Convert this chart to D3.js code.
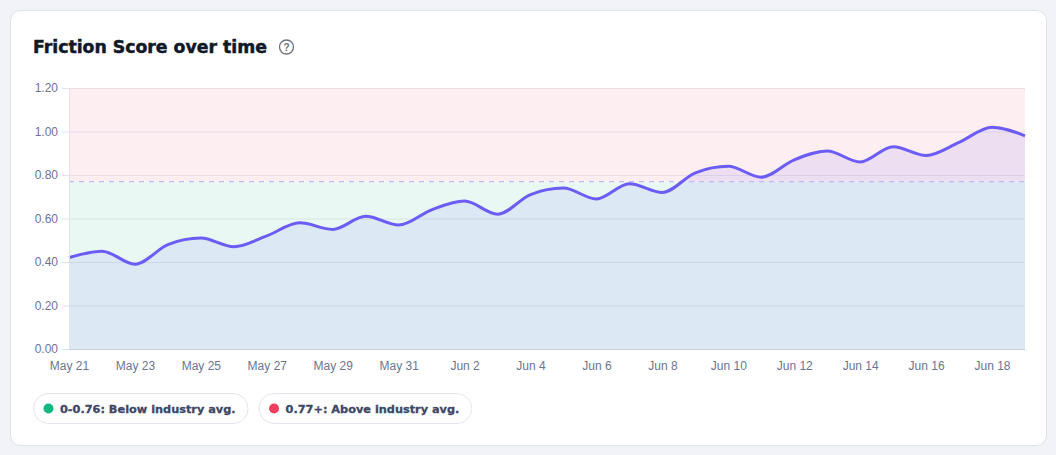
<!DOCTYPE html>
<html>
<head>
<meta charset="utf-8">
<script src="https://cdn.jsdelivr.net/npm/d3@7"></script>
<style>
  html, body { margin: 0; padding: 0; background: #f1f3f8; }
  svg { display: block; }
</style>
</head>
<body>
<script>
// daily friction scores, May 21 .. Jun 19
const startDate = "2024-05-21";
const scores = [0.42, 0.45, 0.39, 0.48, 0.51, 0.47, 0.52, 0.58, 0.55, 0.61,
                0.57, 0.64, 0.68, 0.62, 0.71, 0.74, 0.69, 0.76, 0.72, 0.81,
                0.84, 0.79, 0.87, 0.91, 0.86, 0.93, 0.89, 0.95, 1.02, 0.98];
const yTicks = [0, 0.2, 0.4, 0.6, 0.8, 1.0, 1.2];
const xTickEvery = 2; // label every other day
const threshold = 0.77;
const legendItems = [
  { label: "0-0.76: Below industry avg.", color: "#10b981" },
  { label: "0.77+: Above industry avg.", color: "#f43f5e" }
];

const W = 1056, H = 455;
const margin = { left: 69, right: 31, top: 88, bottom: 106 };

const parse = d3.timeParse("%Y-%m-%d");
const t0 = parse(startDate);
const data = scores.map((v, i) => ({ date: d3.timeDay.offset(t0, i), value: v }));
const xTickValues = data.filter((d, i) => i % xTickEvery == 0 && i < data.length - 1).map(d => d.date);

const svg = d3.select("body").append("svg").attr("width", W).attr("height", H);

// card
svg.append("rect")
  .attr("x", 10.5).attr("y", 10.5).attr("width", 1036).attr("height", 435)
  .attr("rx", 10).attr("fill", "#fff").attr("stroke", "#dde2ec");

svg.append("text")
  .attr("x", 33).attr("y", 53)
  .attr("font-family", "DejaVu Sans, sans-serif").attr("font-weight", 700)
  .attr("font-size", 17.3).attr("fill", "#111827")
  .attr("stroke", "#111827").attr("stroke-width", 0.5)
  .text("Friction Score over time");

// help icon
const help = svg.append("g").attr("transform", "translate(286.5,47)");
help.append("circle").attr("r", 7).attr("fill", "none").attr("stroke", "#6b7280").attr("stroke-width", 1.3);
help.append("text").attr("y", 4).attr("text-anchor", "middle")
  .attr("font-family", "Liberation Sans, Arial, sans-serif").attr("font-size", 10).attr("font-weight", 700)
  .attr("fill", "#6b7280").text("?");

const x = d3.scaleTime()
  .domain(d3.extent(data, d => d.date))
  .range([margin.left, W - margin.right]);
const y = d3.scaleLinear()
  .domain([0, 1.2])
  .range([H - margin.bottom, margin.top]);

// bands
svg.append("rect")
  .attr("x", x.range()[0]).attr("width", x.range()[1] - x.range()[0])
  .attr("y", y(1.2)).attr("height", y(threshold) - y(1.2))
  .attr("fill", "#fdeef1");
svg.append("rect")
  .attr("x", x.range()[0]).attr("width", x.range()[1] - x.range()[0])
  .attr("y", y(threshold)).attr("height", y(0) - y(threshold))
  .attr("fill", "#eaf8f3");

// grid
svg.append("g").selectAll("line").data(yTicks).join("line")
  .attr("x1", x.range()[0]).attr("x2", x.range()[1])
  .attr("y1", d => y(d) + 0.5).attr("y2", d => y(d) + 0.5)
  .attr("stroke", "rgba(120,130,170,0.15)");

// area + line
const area = d3.area()
  .x(d => x(d.date)).y0(y(0)).y1(d => y(d.value))
  .curve(d3.curveMonotoneX);
svg.append("path").datum(data)
  .attr("d", area).attr("fill", "rgba(99,102,241,0.1)");

// threshold
svg.append("line")
  .attr("x1", x.range()[0]).attr("x2", x.range()[1])
  .attr("y1", y(threshold)).attr("y2", y(threshold))
  .attr("stroke", "#c3b8f3").attr("stroke-width", 1.3).attr("stroke-dasharray", "5,5");

const line = d3.line()
  .x(d => x(d.date)).y(d => y(d.value))
  .curve(d3.curveMonotoneX);
svg.append("path").datum(data)
  .attr("d", line).attr("fill", "none")
  .attr("stroke", "#6c5cf6").attr("stroke-width", 3).attr("stroke-linejoin", "round");

// axes
const yAxis = svg.append("g")
  .attr("transform", `translate(${margin.left},0)`)
  .call(d3.axisLeft(y).tickValues(yTicks).tickFormat(d3.format(".2f")).tickSize(7).tickPadding(4));
yAxis.select(".domain").attr("stroke", "#dde2ec");
yAxis.selectAll(".tick line").attr("stroke", "#dde2ec");
yAxis.selectAll("text").attr("fill", "#6b7591")
  .attr("font-family", "Liberation Sans, Arial, sans-serif").attr("font-size", 12);

const xAxis = svg.append("g")
  .attr("transform", `translate(0,${y(0)})`)
  .call(d3.axisBottom(x).tickValues(xTickValues).tickFormat(d3.timeFormat("%b %-d")).tickSize(0).tickPadding(12));
xAxis.select(".domain").attr("stroke", "#c9d0de");
xAxis.selectAll("text").attr("fill", "#6b7591")
  .attr("font-family", "Liberation Sans, Arial, sans-serif").attr("font-size", 12);

// legend pills
let lx = 33;
legendItems.forEach(item => {
  const g = svg.append("g").attr("transform", `translate(${lx},393)`);
  const txt = g.append("text")
    .attr("x", 27).attr("y", 19.5)
    .attr("font-family", "DejaVu Sans, sans-serif").attr("font-weight", 700)
    .attr("font-size", 11.3).attr("fill", "#3d4766")
    .attr("stroke", "#3d4766").attr("stroke-width", 0.3)
    .text(item.label);
  const tw = txt.node().getComputedTextLength();
  const pw = tw + 27 + 12;
  g.insert("rect", "text")
    .attr("x", 0.5).attr("y", 0.5).attr("width", pw).attr("height", 30)
    .attr("rx", 15).attr("fill", "#fff").attr("stroke", "#e2e6ee");
  g.append("circle").attr("cx", 15.5).attr("cy", 15.5).attr("r", 5).attr("fill", item.color);
  lx += pw + 11;
});
</script>
</body>
</html>
